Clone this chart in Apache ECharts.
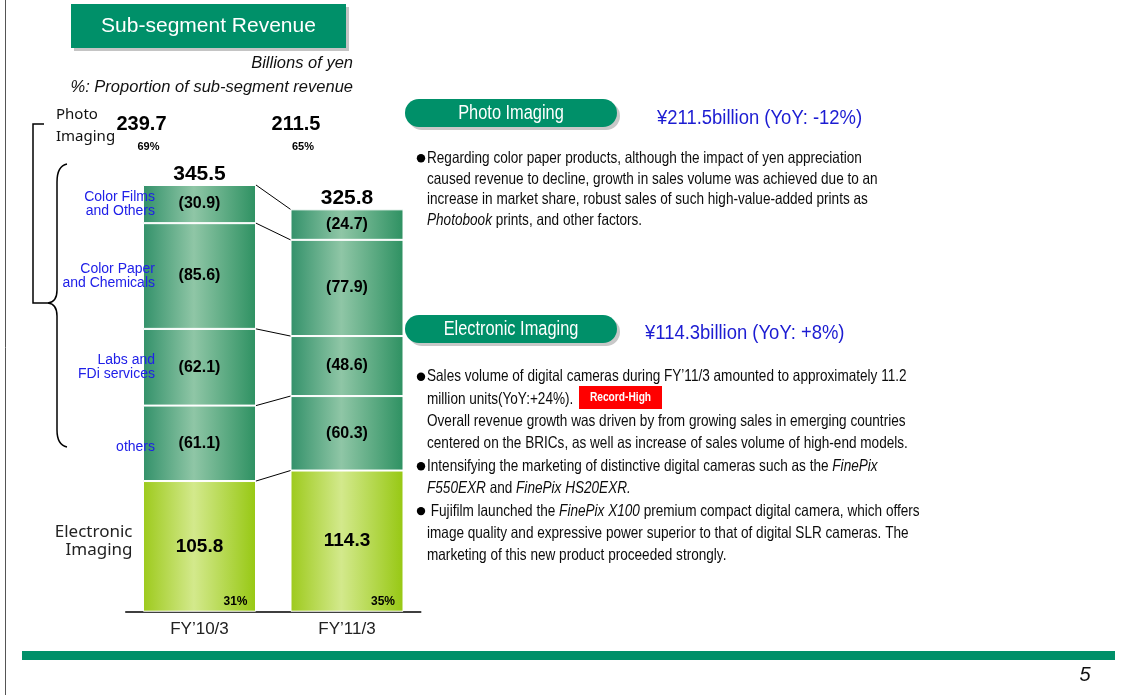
<!DOCTYPE html>
<html><head><meta charset="utf-8">
<script src="https://cdn.jsdelivr.net/npm/echarts@6/dist/echarts.min.js"></script>
<style>html,body{margin:0;padding:0;background:#fff}#c{width:1126px;height:695px}</style>
</head><body><div id="c"></div>
<script>
// ---- data ----
const categories = ['FY\u201910/3', 'FY\u201911/3'];
const electronic = [105.8, 114.3];
const others = [61.1, 60.3];
const labs = [62.1, 48.6];
const colorPaper = [85.6, 77.9];
const colorFilms = [30.9, 24.7];
const totals = [345.5, 325.8];
const photoTotals = [239.7, 211.5];
const photoShare = ['69%', '65%'];
const electronicShare = ['31%', '35%'];
const segmentNames = ['Electronic\nImaging', 'others', 'Labs and\nFDi services', 'Color Paper\nand Chemicals', 'Color Films\nand Others'];
const photoHeading = '\u00a5211.5billion (YoY: -12%)';
const electronicHeading = '\u00a5114.3billion (YoY: +8%)';
const photoLines = [
  'Regarding color paper products, although the impact of yen appreciation',
  'caused revenue to decline, growth in sales volume was achieved due to an',
  'increase in market share, robust sales of such high-value-added prints as',
  '{i|Photobook} prints, and other factors.'
];
const electronicLines = [
  'Sales volume of digital cameras during FY\u201911/3 amounted to approximately 11.2',
  'million units(YoY:+24%).',
  'Overall revenue growth was driven by from growing sales in emerging countries',
  'centered on the BRICs, as well as increase of sales volume of high-end models.',
  'Intensifying the marketing of distinctive digital cameras such as the {i|FinePix}',
  '{i|F550EXR} and {i|FinePix HS20EXR.}',
  ' Fujifilm launched the {i|FinePix X100} premium compact digital camera, which offers',
  'image quality and expressive power superior to that of digital SLR cameras. The',
  'marketing of this new product proceeded strongly.'
];
const electronicBullets = [0, 4, 6];

// ---- derived stacks ----
const stacks = [electronic, others, labs, colorPaper, colorFilms];
const cum = [[], []];
for (let c = 0; c < 2; c++) { let s = 0; stacks.forEach((arr, k) => { cum[c].push([s, s + arr[c]]); s += arr[c]; }); }
const connectorData = stacks.map((_, k) => [0, cum[0][k][1], cum[1][k][1]]);
const nameData = stacks.map((_, k) => [0, cum[0][k][0], cum[0][k][1], k]);

const GREEN = '#009069';
const photoGrad = new echarts.graphic.LinearGradient(0, 0, 1, 0, [
  { offset: 0, color: '#33916a' }, { offset: 0.45, color: '#8fc6a6' }, { offset: 1, color: '#2e9162' }]);
const elecGrad = new echarts.graphic.LinearGradient(0, 0, 1, 0, [
  { offset: 0, color: '#9dca1c' }, { offset: 0.45, color: '#d3e98c' }, { offset: 1, color: '#97c813' }]);
const HALF = 56.5;
const FONT = '"Liberation Sans", Arial, sans-serif';

function barSeries(name, data, grad, big) {
  return {
    name, type: 'bar', stack: 'total', data, barWidth: 113,
    itemStyle: { color: grad, borderColor: '#ffffff', borderWidth: 1 },
    label: { show: true, position: 'inside', color: '#000', fontWeight: 'bold', fontFamily: FONT,
      fontSize: big ? 19 : 16, formatter: p => big ? p.value.toFixed(1) : '(' + p.value.toFixed(1) + ')' },
    silent: true
  };
}

// ---- graphics ----
const g = [];
const K = { stroke: '#000', lineWidth: 1.5, fill: null };
g.push({ type: 'line', shape: { x1: 5.5, y1: 0, x2: 5.5, y2: 695 }, style: { stroke: '#555', lineWidth: 1 } });
g.push({ type: 'rect', shape: { x: 74, y: 7, width: 275, height: 44 }, style: { fill: '#c4c4c4' } });
g.push({ type: 'rect', shape: { x: 71, y: 4, width: 275, height: 44 }, style: { fill: GREEN } });
g.push({ type: 'text', x: 208.5, y: 26, style: { text: 'Sub-segment Revenue', fill: '#fff', font: '21px ' + FONT, align: 'center', verticalAlign: 'middle' } });
g.push({ type: 'text', x: 353, y: 63, style: { text: 'Billions of yen', fill: '#111', font: 'italic 16.5px ' + FONT, align: 'right', verticalAlign: 'middle' } });
g.push({ type: 'text', x: 353, y: 87, style: { text: '%: Proportion of sub-segment revenue', fill: '#111', font: 'italic 16.5px ' + FONT, align: 'right', verticalAlign: 'middle' } });
g.push({ type: 'text', x: 56, y: 126, style: { text: 'Photo\nImaging', fill: '#111', font: '15px "Noto Sans", sans-serif', lineHeight: 22, align: 'left', verticalAlign: 'middle' } });
g.push({ type: 'polyline', shape: { points: [[44, 124], [33, 124], [33, 303], [48, 303]] }, style: K });
g.push({ type: 'bezierCurve', shape: { x1: 67, y1: 164, cpx1: 57, cpy1: 166, x2: 57, y2: 182 }, style: K });
g.push({ type: 'line', shape: { x1: 57, y1: 182, x2: 57, y2: 290 }, style: K });
g.push({ type: 'bezierCurve', shape: { x1: 57, y1: 290, cpx1: 57, cpy1: 302, x2: 48, y2: 303 }, style: K });
g.push({ type: 'bezierCurve', shape: { x1: 48, y1: 303, cpx1: 57, cpy1: 304, x2: 57, y2: 316 }, style: K });
g.push({ type: 'line', shape: { x1: 57, y1: 316, x2: 57, y2: 430 }, style: K });
g.push({ type: 'bezierCurve', shape: { x1: 57, y1: 430, cpx1: 57, cpy1: 445, x2: 67, y2: 447 }, style: K });

function pill(y, label) {
  g.push({ type: 'rect', shape: { x: 408, y: y + 3, width: 212, height: 28, r: 14 }, style: { fill: '#c8c8c8' } });
  g.push({ type: 'rect', shape: { x: 405, y: y, width: 212, height: 28, r: 14 }, style: { fill: GREEN } });
  g.push({ type: 'text', x: 511, y: y + 15, scaleX: 0.84, style: { text: label, fill: '#fff', font: '19.5px ' + FONT, align: 'center', verticalAlign: 'middle' } });
}
pill(99, 'Photo Imaging');
pill(315, 'Electronic Imaging');
const SX = 0.823;
g.push({ type: 'text', x: 657, y: 118, scaleX: 0.9, style: { text: photoHeading, fill: '#1c1cd2', font: '20.5px ' + FONT, align: 'left', verticalAlign: 'middle' } });
g.push({ type: 'text', x: 645, y: 333, scaleX: 0.9, style: { text: electronicHeading, fill: '#1c1cd2', font: '20.5px ' + FONT, align: 'left', verticalAlign: 'middle' } });
const rich = { i: { fontStyle: 'italic', fontSize: 16.5, fontFamily: FONT, fill: '#0c0c0c' } };
function bodyLine(x, y, text) {
  g.push({ type: 'text', x, y, scaleX: SX, style: { text, rich, fill: '#0c0c0c', font: '16.5px ' + FONT, align: 'left', verticalAlign: 'middle' } });
}
function bullet(y) { g.push({ type: 'circle', shape: { cx: 421, cy: y, r: 4.2 }, style: { fill: '#000' } }); }
photoLines.forEach((t, i) => { bodyLine(427, 158.3 + i * 20.8, t); });
bullet(158.3);
electronicLines.forEach((t, i) => { const y = 376.7 + i * 22.4; bodyLine(427, y, t); if (electronicBullets.includes(i)) bullet(y); });
g.push({ type: 'rect', shape: { x: 579, y: 386, width: 83, height: 23 }, style: { fill: '#ff0000' } });
g.push({ type: 'text', x: 620.5, y: 398, scaleX: 0.85, style: { text: 'Record-High', fill: '#fff', font: 'bold 12px ' + FONT, align: 'center', verticalAlign: 'middle' } });
g.push({ type: 'rect', shape: { x: 22, y: 651, width: 1093, height: 9 }, style: { fill: GREEN } });
g.push({ type: 'text', x: 1085, y: 675, style: { text: '5', fill: '#111', font: 'italic 20px ' + FONT, align: 'center', verticalAlign: 'middle' } });

const chart = echarts.init(document.getElementById('c'), null, { renderer: 'canvas' });
chart.setOption({
  animation: false,
  backgroundColor: '#fff',
  grid: { left: 125.75, width: 295, top: 117.7, height: 494 },
  xAxis: { type: 'category', data: categories, axisTick: { show: false },
    axisLine: { lineStyle: { color: '#000', width: 1.5 } },
    axisLabel: { color: '#222', fontSize: 17, fontFamily: FONT, margin: 9 } },
  yAxis: { type: 'value', min: 0, max: 400, show: false },
  graphic: g,
  series: [
    barSeries('Electronic Imaging', electronic, elecGrad, true),
    barSeries('others', others, photoGrad, false),
    barSeries('Labs and FDi services', labs, photoGrad, false),
    barSeries('Color Paper and Chemicals', colorPaper, photoGrad, false),
    barSeries('Color Films and Others', colorFilms, photoGrad, false),
    { type: 'custom', name: 'connectors', data: connectorData, encode: { x: 0, y: [1, 2] }, silent: true, z: 4,
      renderItem: (params, api) => {
        const p1 = api.coord([0, api.value(1)]); const p2 = api.coord([1, api.value(2)]);
        return { type: 'line', shape: { x1: p1[0] + HALF, y1: p1[1], x2: p2[0] - HALF, y2: p2[1] }, style: { stroke: '#000', lineWidth: 1 } };
      } },
    { type: 'custom', name: 'names', data: nameData, encode: { x: 0, y: [1, 2] }, silent: true, z: 6,
      renderItem: (params, api) => {
        const k = params.dataIndex; const isEl = k === 0;
        const p = api.coord([0, (api.value(1) + api.value(2)) / 2]);
        return { type: 'text', x: p[0] - (isEl ? 67 : 44.5), y: p[1] + (isEl ? -5 : (k === 1 ? 4 : 0)),
          style: { text: segmentNames[k], align: 'right', verticalAlign: 'middle', fill: isEl ? '#222' : '#2020e8',
            font: isEl ? '17px "Noto Sans", sans-serif' : '14px ' + FONT, lineHeight: isEl ? 18 : 13.5 } };
      } },
    { type: 'custom', name: 'totals', data: totals.map((v, i) => [i, v]), encode: { x: 0, y: 1 }, silent: true, z: 6,
      renderItem: (params, api) => {
        const p = api.coord([params.dataIndex, api.value(1)]);
        return { type: 'text', x: p[0], y: p[1] - 11, style: { text: totals[params.dataIndex].toFixed(1), align: 'center', verticalAlign: 'middle', fill: '#000', font: 'bold 21px ' + FONT } };
      } },
    { type: 'custom', name: 'photoTotals', data: photoTotals.map((v, i) => [i, v]), encode: { x: 0, y: 1 }, silent: true, z: 6,
      renderItem: (params, api) => {
        const i = params.dataIndex; const p = api.coord([i, 0]);
        const off = i === 0 ? -58 : -51;
        return { type: 'group', children: [
          { type: 'text', x: p[0] + off, y: 124, style: { text: photoTotals[i].toFixed(1), align: 'center', verticalAlign: 'middle', fill: '#000', font: 'bold 20px ' + FONT } },
          { type: 'text', x: p[0] + off + 7, y: 147, style: { text: photoShare[i], align: 'center', verticalAlign: 'middle', fill: '#000', font: 'bold 11px ' + FONT } }
        ] };
      } },
    { type: 'custom', name: 'elecShare', data: electronic.map((v, i) => [i, 0]), encode: { x: 0, y: 1 }, silent: true, z: 6,
      renderItem: (params, api) => {
        const i = params.dataIndex; const p = api.coord([i, 0]);
        return { type: 'text', x: p[0] + 48, y: p[1] - 10, style: { text: electronicShare[i], align: 'right', verticalAlign: 'middle', fill: '#000', font: 'bold 12px ' + FONT } };
      } }
  ]
});
</script></body></html>
